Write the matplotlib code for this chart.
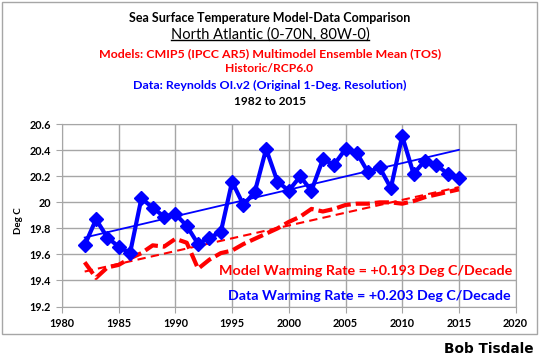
import numpy as np
import matplotlib.pyplot as plt
from matplotlib.lines import Line2D
from matplotlib.patches import Rectangle

years = list(range(1982, 2016))
data_sst = [19.67, 19.87, 19.73, 19.66, 19.61, 20.03, 19.96, 19.89, 19.91, 19.82,
            19.68, 19.73, 19.77, 20.16, 19.98, 20.08, 20.41, 20.16, 20.09, 20.20,
            20.09, 20.33, 20.29, 20.41, 20.38, 20.23, 20.27, 20.11, 20.51, 20.22,
            20.32, 20.29, 20.22, 20.19]
model_sst = [19.54, 19.42, 19.50, 19.52, 19.57, 19.61, 19.67, 19.66, 19.72, 19.69,
             19.49, 19.56, 19.61, 19.63, 19.68, 19.72, 19.76, 19.80, 19.85, 19.89,
             19.95, 19.93, 19.95, 19.98, 19.99, 19.99, 20.00, 20.00, 19.99, 20.01,
             20.04, 20.06, 20.08, 20.10]
xticks = [1980, 1985, 1990, 1995, 2000, 2005, 2010, 2015, 2020]
yticks = [19.2, 19.4, 19.6, 19.8, 20, 20.2, 20.4, 20.6]
ytick_labels = ['19.2', '19.4', '19.6', '19.8', '20', '20.2', '20.4', '20.6']

plt.rcParams['font.family'] = ['Lato', 'DejaVu Sans']

fig = plt.figure(figsize=(5.4, 3.62), dpi=100)
W, H = 540, 362
ax = fig.add_axes([62 / W, 1 - 306.5 / H, (515.6 - 62) / W, (306.5 - 124.3) / H])

yrs = np.array(years)
# linear trends
pd_ = np.polyfit(yrs, data_sst, 1)
pm_ = np.polyfit(yrs, model_sst, 1)

ax.plot(years, model_sst, color='#ff0000', lw=3, dashes=(3.4, 1.2), zorder=3)
ax.plot(yrs, np.polyval(pm_, yrs), color='#ff0000', lw=1.5, dashes=(4, 2.5), zorder=3)
ax.plot(years, data_sst, color='#0000ff', lw=3, marker='D', markersize=7, zorder=4)
ax.plot(yrs, np.polyval(pd_, yrs), color='#0000ff', lw=1.3, zorder=4)

ax.set_xlim(1980, 2020)
ax.set_ylim(19.2, 20.6)
ax.set_xticks(xticks)
ax.set_yticks(yticks)
ax.set_yticklabels(ytick_labels)
ax.grid(True, color='#a6a6a6', lw=1)
ax.set_axisbelow(True)
for s in ax.spines.values():
    s.set_color('#a6a6a6')
ax.tick_params(colors='#a6a6a6', labelcolor='black', length=4, labelsize=7.8, pad=4)
for lab in ax.get_xticklabels() + ax.get_yticklabels():
    lab.set_fontweight('bold')
ax.set_ylabel('Deg C', fontsize=7, fontweight='bold')
ax.yaxis.set_label_coords(-0.086, 0.47)

# (text, x px, y px, colour, weight, size, target width px)
fig_texts = [
    ('Sea Surface Temperature Model-Data Comparison', 270, 18.3, 'black', 'bold', 10, 282),
    ('North Atlantic (0-70N, 80W-0)', 270, 34.3, 'black', 'normal', 12, 197),
    ('Models: CMIP5 (IPCC AR5) Multimodel Ensemble Mean (TOS)', 270, 53.3, '#ff0000', 'bold', 10, 343),
    ('Historic/RCP6.0', 269, 68.8, '#ff0000', 'bold', 10, 88),
    ('Data: Reynolds OI.v2 (Original 1-Deg. Resolution)', 270, 85, '#0000ff', 'bold', 10, 273),
    ('1982 to 2015', 270, 101.7, 'black', 'bold', 10, 72),
]
r = fig.canvas.get_renderer()
tobjs = []
for txt, x, y, c, w, fs, tw in fig_texts:
    t = fig.text(x / W, 1 - y / H, txt, color=c, fontweight=w, fontsize=fs,
                 ha='center', va='center')
    t.set_fontsize(fs * tw / t.get_window_extent(r).width)
    tobjs.append(t)

m = ax.text(512 / W, 1 - 270.7 / H, 'Model Warming Rate = +0.193 Deg C/Decade', color='#ff0000',
            fontsize=12, fontweight='bold', ha='right', va='center', transform=fig.transFigure)
d = ax.text(511 / W, 1 - 295.5 / H, 'Data Warming Rate = +0.203 Deg C/Decade', color='#0000ff',
            fontsize=12, fontweight='bold', ha='right', va='center', transform=fig.transFigure)
for t, tw in [(m, 292), (d, 281)]:
    t.set_fontsize(12 * tw / t.get_window_extent(r).width)

bt = fig.text(533 / W, 1 - 349 / H, 'Bob Tisdale', fontsize=11, fontweight='heavy',
              ha='right', va='center', family=['DejaVu Sans'])
bt.set_fontsize(11 * 89 / bt.get_window_extent(r).width)

# chart border
fig.add_artist(Rectangle((2 / W, 1 - 334 / H), 535 / W, 332 / H, transform=fig.transFigure,
                         fill=False, edgecolor='#a6a6a6', lw=1))

# underline for the region title
fig.canvas.draw()
bb = tobjs[1].get_window_extent().transformed(fig.transFigure.inverted())
fig.add_artist(Line2D([bb.x0, bb.x1], [bb.y0 + 0.004, bb.y0 + 0.004], color='black', lw=1,
                      transform=fig.transFigure))

fig.savefig('out.png', dpi=100)
